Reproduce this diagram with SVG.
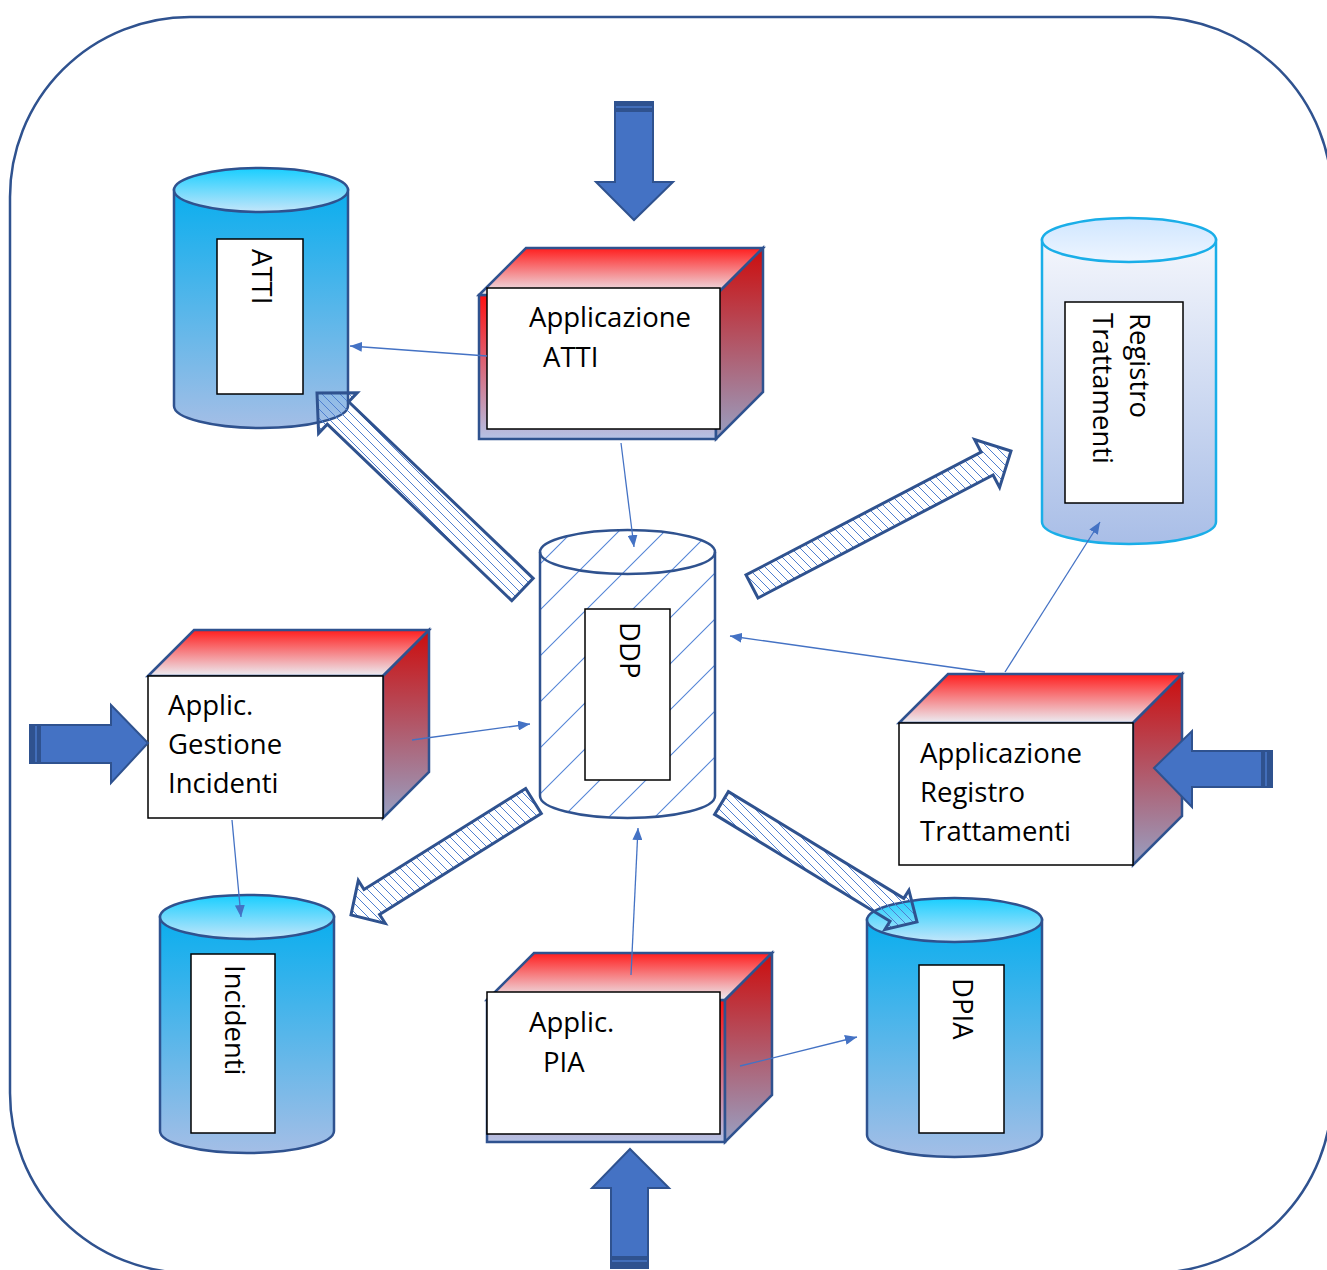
<svg xmlns="http://www.w3.org/2000/svg" width="1327" height="1270" viewBox="0 0 1327 1270">
<defs>
<style>
.lbl{font-family:"Open Sans","Liberation Sans",sans-serif;font-size:27.5px;fill:#000}
.cylS{stroke:#2F528F;stroke-width:2.5}
.cylR{stroke:#1AAEE8;stroke-width:2.5}
.face{stroke:#2F528F;stroke-width:2.5;stroke-linejoin:miter}
.tbox{fill:#fff;stroke:#000;stroke-width:1.5}
.conn{stroke:#4472C4;stroke-width:1.3;fill:none}
.blk{fill:#4472C4;stroke:#2F528F;stroke-width:2}
.hat{fill:url(#hatch);stroke:#2F528F;stroke-width:3;stroke-linejoin:miter}
</style>
<linearGradient id="gBody" x1="0" y1="0" x2="0" y2="1"><stop offset="0" stop-color="#0AAEEE"/><stop offset="1" stop-color="#A4BEE6"/></linearGradient>
<linearGradient id="gTop" x1="0" y1="0" x2="0" y2="1"><stop offset="0" stop-color="#18CEFF"/><stop offset="1" stop-color="#C4E6FA"/></linearGradient>
<linearGradient id="gRBody" x1="0" y1="0" x2="0" y2="1"><stop offset="0" stop-color="#F4F6FC"/><stop offset="1" stop-color="#A9BEE7"/></linearGradient>
<linearGradient id="gRTop" x1="0" y1="0" x2="0" y2="1"><stop offset="0" stop-color="#CFE6FF"/><stop offset="1" stop-color="#EEF5FF"/></linearGradient>
<linearGradient id="gCTop" x1="0" y1="0" x2="0" y2="1"><stop offset="0" stop-color="#FF1E1E"/><stop offset="1" stop-color="#ECEEF4"/></linearGradient>
<linearGradient id="gCRight" x1="0" y1="0" x2="0" y2="1"><stop offset="0" stop-color="#CC0D0D"/><stop offset="1" stop-color="#98A0C2"/></linearGradient>
<linearGradient id="gCFront" x1="0" y1="0" x2="0" y2="1"><stop offset="0" stop-color="#FF1010"/><stop offset="1" stop-color="#B4C2E6"/></linearGradient>
<pattern id="hatch" patternUnits="userSpaceOnUse" width="9" height="9">
<path d="M0,0 L9,9 M-1,8 L1,10 M8,-1 L10,1" stroke="#4F7FD0" stroke-width="1"/>
</pattern>
<pattern id="ddpHatch" patternUnits="userSpaceOnUse" width="46" height="46">
<path d="M0,46 L46,0 M-2,2 L2,-2 M44,48 L48,44" stroke="#5585D6" stroke-width="1.1"/>
</pattern>
<marker id="ah" viewBox="0 0 12 10" refX="12" refY="5" markerWidth="12" markerHeight="10" markerUnits="userSpaceOnUse" orient="auto">
<path d="M0,0 L12,5 L0,10 z" fill="#4472C4"/>
</marker>
</defs>

<rect id="frame" x="10" y="17" width="1322" height="1256" rx="180" ry="180" fill="#fff" stroke="#2F528F" stroke-width="2.5"/>

<g id="cyl-atti">
<path class="cylS" fill="url(#gBody)" d="M174,190 V406 A87,22 0 0 0 348,406 V190 Z"/>
<ellipse class="cylS" fill="url(#gTop)" cx="261" cy="190" rx="87" ry="22"/>
<rect class="tbox" x="217" y="239" width="86" height="155"/>
<text class="lbl" transform="translate(252,249) rotate(90)">ATTI</text>
</g>

<g id="cyl-incidenti">
<path class="cylS" fill="url(#gBody)" d="M160,917 V1131 A87,22 0 0 0 334,1131 V917 Z"/>
<ellipse class="cylS" fill="url(#gTop)" cx="247" cy="917" rx="87" ry="22"/>
<rect class="tbox" x="191" y="954" width="84" height="179"/>
<text class="lbl" transform="translate(225,965) rotate(90)">Incidenti</text>
</g>

<g id="cyl-dpia">
<path class="cylS" fill="url(#gBody)" d="M867,920 V1135 A87.5,22 0 0 0 1042,1135 V920 Z"/>
<ellipse class="cylS" fill="url(#gTop)" cx="954.5" cy="920" rx="87.5" ry="22"/>
<rect class="tbox" x="919" y="965" width="85" height="168"/>
<text class="lbl" transform="translate(953,978) rotate(90)">DPIA</text>
</g>

<g id="cyl-registro">
<path class="cylR" fill="url(#gRBody)" d="M1042,240 V522 A87,22 0 0 0 1216,522 V240 Z"/>
<ellipse class="cylR" fill="url(#gRTop)" cx="1129" cy="240" rx="87" ry="22"/>
<rect class="tbox" x="1065" y="302" width="118" height="201"/>
<text class="lbl" transform="translate(1130,313) rotate(90)">Registro</text>
<text class="lbl" transform="translate(1093,313) rotate(90)">Trattamenti</text>
</g>

<g id="cyl-ddp">
<path fill="#fff" stroke="none" d="M540,552 A87.5,22 0 0 1 715,552 V796 A87.5,22 0 0 1 540,796 Z"/>
<path fill="url(#ddpHatch)" stroke="none" d="M540,552 A87.5,22 0 0 1 715,552 V796 A87.5,22 0 0 1 540,796 Z"/>
<path class="cylS" fill="none" d="M540,552 V796 A87.5,22 0 0 0 715,796 V552"/>
<ellipse class="cylS" fill="none" cx="627.5" cy="552" rx="87.5" ry="22"/>
<rect class="tbox" x="585" y="609" width="85" height="171"/>
<text class="lbl" transform="translate(620,622) rotate(90)">DDP</text>
</g>

<g id="app-atti">
<rect class="face" fill="url(#gCFront)" x="479" y="295" width="237" height="144"/>
<polygon class="face" fill="url(#gCTop)" points="479,295 526,248 763,248 716,295"/>
<polygon class="face" fill="url(#gCRight)" points="716,295 763,248 763,392 716,439"/>
<rect class="tbox" x="487" y="288" width="233" height="141"/>
<text class="lbl" x="529" y="327">Applicazione</text>
<text class="lbl" x="543" y="367">ATTI</text>
</g>

<g id="app-incidenti">
<polygon class="face" fill="url(#gCTop)" points="148,676 194,630 429,630 383,676"/>
<polygon class="face" fill="url(#gCRight)" points="383,676 429,630 429,772 383,818"/>
<rect class="tbox" x="148" y="676" width="235" height="142"/>
<text class="lbl" x="168" y="715">Applic.</text>
<text class="lbl" x="168" y="754">Gestione</text>
<text class="lbl" x="168" y="793">Incidenti</text>
</g>

<g id="app-registro">
<polygon class="face" fill="url(#gCTop)" points="899,723 948,674 1182,674 1133,723"/>
<polygon class="face" fill="url(#gCRight)" points="1133,723 1182,674 1182,816 1133,865"/>
<rect class="tbox" x="899" y="723" width="234" height="142"/>
<text class="lbl" x="920" y="763">Applicazione</text>
<text class="lbl" x="920" y="802">Registro</text>
<text class="lbl" x="920" y="841">Trattamenti</text>
</g>

<g id="app-pia">
<rect class="face" fill="url(#gCFront)" x="487" y="1000" width="238" height="142"/>
<polygon class="face" fill="url(#gCTop)" points="487,1000 534,953 772,953 725,1000"/>
<polygon class="face" fill="url(#gCRight)" points="725,1000 772,953 772,1095 725,1142"/>
<rect class="tbox" x="487" y="992" width="233" height="142"/>
<text class="lbl" x="529" y="1032">Applic.</text>
<text class="lbl" x="543" y="1072">PIA</text>
</g>

<g id="connectors">
<line class="conn" x1="487" y1="356" x2="350" y2="346" marker-end="url(#ah)"/>
<line class="conn" x1="621" y1="443" x2="634" y2="547" marker-end="url(#ah)"/>
<line class="conn" x1="412" y1="740" x2="530" y2="724" marker-end="url(#ah)"/>
<line class="conn" x1="232" y1="820" x2="241" y2="917" marker-end="url(#ah)"/>
<line class="conn" x1="985" y1="672" x2="730" y2="636" marker-end="url(#ah)"/>
<line class="conn" x1="1005" y1="672" x2="1100" y2="522" marker-end="url(#ah)"/>
<line class="conn" x1="631" y1="975" x2="638" y2="828" marker-end="url(#ah)"/>
<line class="conn" x1="740" y1="1066" x2="857" y2="1037" marker-end="url(#ah)"/>

<polygon class="hat" points="533.2,578.3 348.7,401.8 357.3,392.8 317,393 318.6,433.3 327.3,424.2 511.8,600.7"/>
<polygon class="hat" points="758,598 993.1,475 999.6,487.4 1011,451 974.6,439.6 981.1,452 746,575"/>
<polygon class="hat" points="525.7,788.5 364,889.5 358.3,880.5 351,915 385.3,923.5 379.6,914.5 541.3,813.5"/>
<polygon class="hat" points="714.6,814.4 890,921.2 884.9,929.4 917,922 908.9,890.2 903.8,898.4 728.4,791.6"/>

<polygon class="blk" points="615,102 653,102 653,182 673,182 634,220 596,182 615,182"/>
<rect x="615" y="102" width="38" height="10" fill="#2F528F"/>
<line x1="616" y1="107" x2="652" y2="107" stroke="#4A78C8" stroke-width="1.5"/>

<polygon class="blk" points="30,725 111,725 111,705 148,743 111,783 111,763 30,763"/>
<rect x="30" y="725" width="11" height="38" fill="#2F528F"/>
<line x1="36" y1="726" x2="36" y2="762" stroke="#4A78C8" stroke-width="1.5"/>

<polygon class="blk" points="1272,751 1192,751 1192,731 1154,768 1192,807 1192,787 1272,787"/>
<rect x="1261" y="751" width="11" height="36" fill="#2F528F"/>
<line x1="1266" y1="752" x2="1266" y2="786" stroke="#4A78C8" stroke-width="1.5"/>

<polygon class="blk" points="611,1268 611,1188 592,1188 630,1149 669,1188 648,1188 648,1268"/>
<rect x="611" y="1256" width="37" height="12" fill="#2F528F"/>
<line x1="612" y1="1261" x2="647" y2="1261" stroke="#4A78C8" stroke-width="1.5"/>
</g>
</svg>
